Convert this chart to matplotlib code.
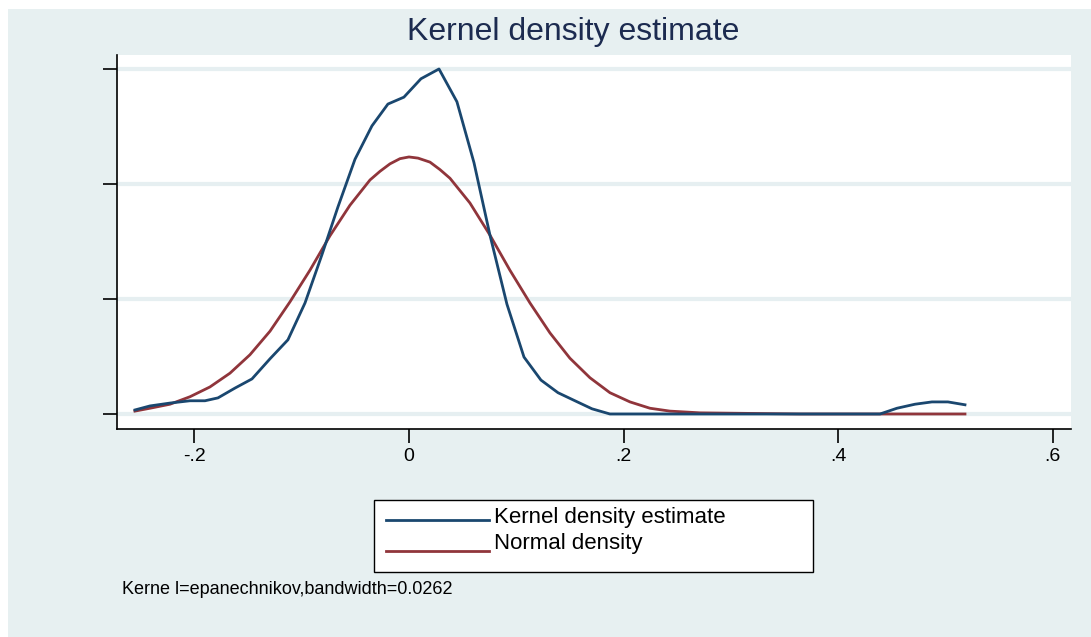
import matplotlib.pyplot as plt
from matplotlib.patches import Rectangle

plt.rcParams['font.family'] = ['Liberation Sans', 'DejaVu Sans']

# kernel density estimate
kde_x = [-0.2554, -0.2414, -0.2227, -0.2041, -0.1901, -0.1780, -0.1622, -0.1463,
         -0.1295, -0.1128, -0.0969, -0.0811, -0.0662, -0.0503, -0.0345, -0.0196,
         -0.0047, 0.0112, 0.0280, 0.0447, 0.0606, 0.0755, 0.0913, 0.1072,
         0.1230, 0.1389, 0.1547, 0.1706, 0.1873, 0.2030, 0.4390, 0.4548,
         0.4716, 0.4874, 0.5023, 0.5182]
kde_y = [0.07, 0.14, 0.19, 0.23, 0.23, 0.28, 0.45, 0.61,
         0.96, 1.29, 1.93, 2.77, 3.60, 4.43, 5.01, 5.39,
         5.51, 5.83, 6.00, 5.43, 4.37, 3.11, 1.91, 0.99,
         0.59, 0.37, 0.23, 0.09, 0.0, 0.0, 0.0, 0.10,
         0.17, 0.21, 0.21, 0.16]

# normal density
norm_x = [-0.2554, -0.2414, -0.2227, -0.2041, -0.1855, -0.1668, -0.1482, -0.1295,
          -0.1109, -0.0923, -0.0736, -0.0550, -0.0363, -0.0270, -0.0177, -0.0084,
          0.0, 0.0084, 0.0196, 0.0289, 0.0382, 0.0568, 0.0755, 0.0941,
          0.1128, 0.1314, 0.1500, 0.1687, 0.1873, 0.2060, 0.2246, 0.2432,
          0.2712, 0.3178, 0.3644, 0.5182]
norm_y = [0.05, 0.10, 0.17, 0.30, 0.47, 0.71, 1.03, 1.44,
          1.95, 2.50, 3.10, 3.63, 4.07, 4.22, 4.35, 4.44,
          4.47, 4.45, 4.38, 4.25, 4.10, 3.67, 3.11, 2.50,
          1.93, 1.41, 0.97, 0.63, 0.37, 0.21, 0.10, 0.05,
          0.02, 0.01, 0.0, 0.0]

xticks = [-0.2, 0, 0.2, 0.4, 0.6]
xticklabels = ['-.2', '0', '.2', '.4', '.6']
yticks = [0, 2, 4, 6]

bg = '#e7f0f1'
W, H = 1091, 637
fig = plt.figure(figsize=(10.91, 6.37), dpi=100, facecolor='white')
fig.patches.append(Rectangle((8/W, 0), 1, 628/H, transform=fig.transFigure,
                             facecolor=bg, edgecolor='none', zorder=-1))

ax = fig.add_axes([117/W, 208/H, (1071-117)/W, (429-55)/H])
ax.set_facecolor('white')
ax.set_xlim(-0.2721, 0.617)
ax.set_ylim(-0.261, 6.243)

for y in yticks:
    ax.axhline(y, color='#e6eff1', lw=3, zorder=1)

ax.plot(kde_x, kde_y, color='#1a476f', lw=2, zorder=3)
ax.plot(norm_x, norm_y, color='#90353b', lw=2, zorder=2)

ax.set_xticks(xticks)
ax.set_xticklabels(xticklabels, fontsize=14)
ax.set_yticks(yticks)
ax.set_yticklabels([])
ax.tick_params(axis='both', length=10, width=1.2, direction='out', pad=4)
for s in ['top', 'right']:
    ax.spines[s].set_visible(False)
for s in ['left', 'bottom']:
    ax.spines[s].set_linewidth(1.2)

fig.text(573/W, 1 - 32/H, 'Kernel density estimate', ha='center', va='center',
         fontsize=23, color='#1c2b50')

# legend box
fig.patches.append(Rectangle((374/W, 1 - 572/H), (813-374)/W, 72/H,
                             transform=fig.transFigure, facecolor='white',
                             edgecolor='black', lw=1, zorder=2))
fig.lines.append(plt.Line2D([386/W, 489/W], [1 - 520/H, 1 - 520/H],
                            transform=fig.transFigure, color='#1a476f', lw=2, zorder=3))
fig.lines.append(plt.Line2D([386/W, 489/W], [1 - 551/H, 1 - 551/H],
                            transform=fig.transFigure, color='#90353b', lw=2, zorder=3))
fig.text(494/W, 1 - 518/H, 'Kernel density estimate', ha='left', va='center', fontsize=16, zorder=4)
fig.text(494/W, 1 - 544/H, 'Normal density', ha='left', va='center', fontsize=16, zorder=4)

fig.text(122/W, 1 - 590/H, 'Kerne l=epanechnikov,bandwidth=0.0262', ha='left', va='center',
         fontsize=13)

fig.savefig('out.png', dpi=100, facecolor=fig.get_facecolor())
